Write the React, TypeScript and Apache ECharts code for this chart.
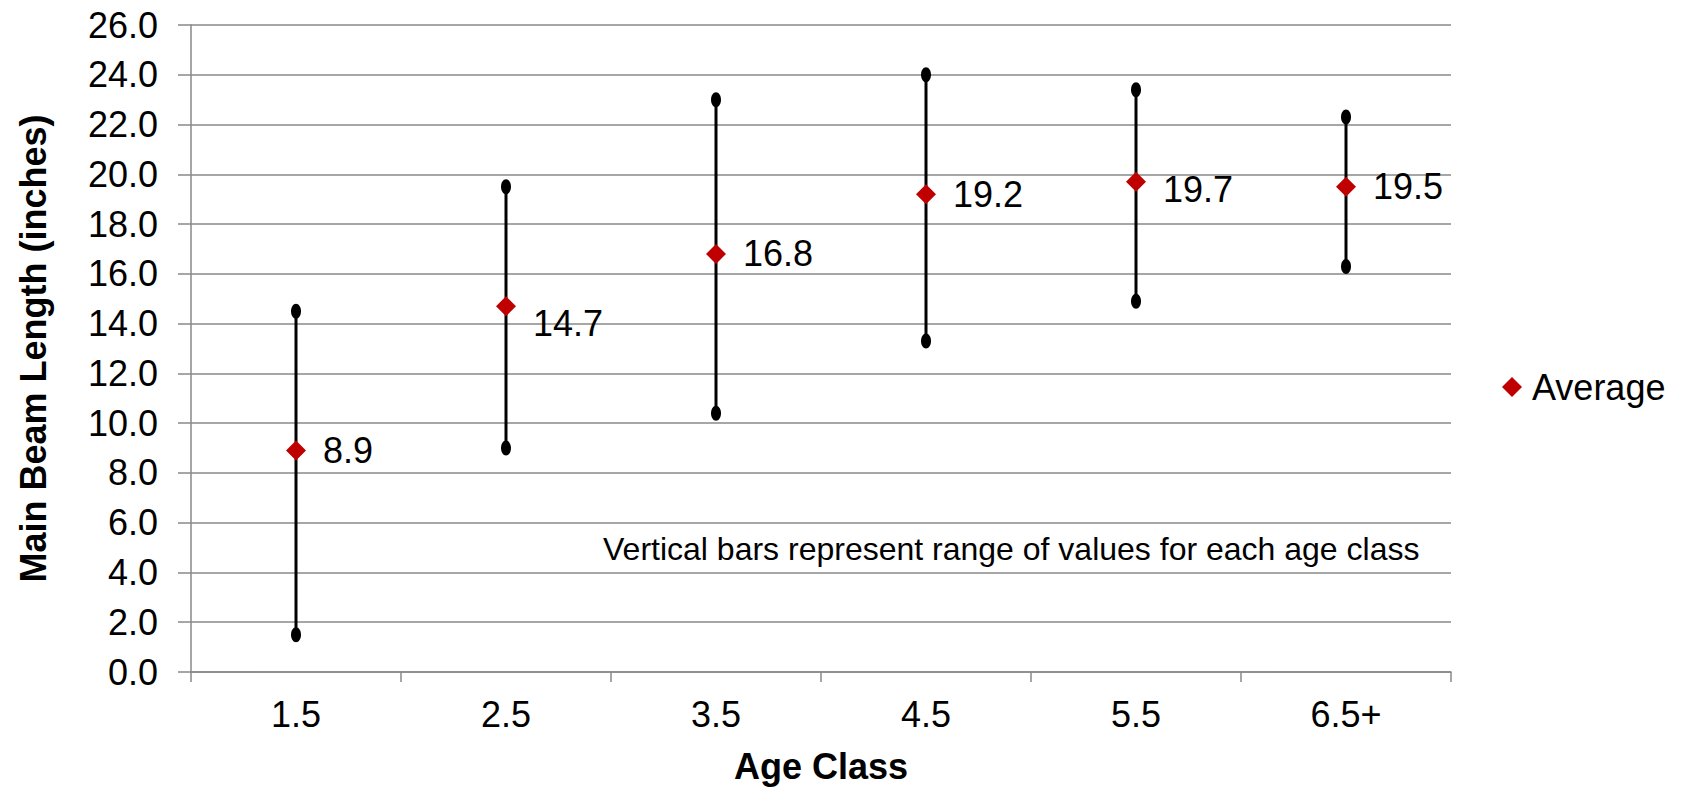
import React, { useEffect, useRef } from "react";
import * as echarts from "echarts";

const categories = ["1.5", "2.5", "3.5", "4.5", "5.5", "6.5+"];
const averages = [8.9, 14.7, 16.8, 19.2, 19.7, 19.5];
const rangeLow = [1.5, 9.0, 10.4, 13.3, 14.9, 16.3];
const rangeHigh = [14.5, 19.5, 23.0, 24.0, 23.4, 22.3];
const yMin = 0;
const yMax = 26;
const yStep = 2;
const seriesName = "Average";
const xTitle = "Age Class";
const yTitle = "Main Beam Length (inches)";
const note = "Vertical bars represent range of values for each age class";

// label vertical nudges (style only)
const labelNudge = [0, 17, 0, 0, 8, 0];

const FONT = "'Liberation Sans', Arial, sans-serif";
const GRID = "#888888";

export default function App() {
  const ref = useRef<HTMLDivElement>(null);
  useEffect(() => {
    document.body.style.margin = "0";
    const chart = echarts.init(ref.current!, null, { renderer: "svg" });
    const option: any = {
      animation: false,
      backgroundColor: "#ffffff",
      textStyle: { fontFamily: FONT },
      grid: { left: 191, right: 230, top: 25, bottom: 121 },
      legend: {
        data: [seriesName],
        left: 1497,
        top: 364,
        itemWidth: 20,
        itemHeight: 20,
        icon: "diamond",
        itemStyle: { opacity: 1 },
        textStyle: { fontSize: 36, color: "#000", fontFamily: FONT, padding: [0, 0, 0, 5] },
      },
      xAxis: {
        type: "category",
        data: categories,
        boundaryGap: true,
        axisLine: { show: true, lineStyle: { color: GRID, width: 1.5 } },
        axisTick: { show: true, length: 10, alignWithLabel: false, lineStyle: { color: GRID, width: 1.5 } },
        axisLabel: { fontSize: 36, color: "#000", margin: 24, fontFamily: FONT },
        name: xTitle,
        nameLocation: "middle",
        nameGap: 76,
        nameTextStyle: { fontSize: 36, fontWeight: "bold", color: "#000", fontFamily: FONT },
      },
      yAxis: {
        type: "value",
        min: yMin,
        max: yMax,
        interval: yStep,
        axisLine: { show: true, lineStyle: { color: GRID, width: 1.5 } },
        axisTick: { show: true, length: 13, lineStyle: { color: GRID, width: 1.5 } },
        splitLine: { show: true, lineStyle: { color: GRID, width: 1.5 } },
        axisLabel: {
          fontSize: 36,
          color: "#000",
          margin: 33,
          fontFamily: FONT,
          formatter: (v: number) => v.toFixed(1),
        },
        name: yTitle,
        nameLocation: "middle",
        nameRotate: 90,
        nameGap: 140,
        nameTextStyle: { fontSize: 36, fontWeight: "bold", color: "#000", fontFamily: FONT },
      },
      series: [
        {
          type: "custom",
          name: "Range",
          z: 2,
          data: categories.map((_, i) => [i, rangeLow[i], rangeHigh[i]]),
          renderItem: (params: any, api: any) => {
            const x = api.value(0);
            const pLo = api.coord([x, api.value(1)]);
            const pHi = api.coord([x, api.value(2)]);
            return {
              type: "group",
              children: [
                {
                  type: "line",
                  shape: { x1: pLo[0], y1: pLo[1], x2: pHi[0], y2: pHi[1] },
                  style: { stroke: "#000", lineWidth: 3 },
                },
                {
                  type: "ellipse",
                  shape: { cx: pHi[0], cy: pHi[1], rx: 5, ry: 7.5 },
                  style: { fill: "#000" },
                },
                {
                  type: "ellipse",
                  shape: { cx: pLo[0], cy: pLo[1], rx: 5, ry: 7.5 },
                  style: { fill: "#000" },
                },
              ],
            };
          },
        },
        {
          type: "scatter",
          name: seriesName,
          z: 5,
          symbol: "diamond",
          symbolSize: 20,
          itemStyle: { color: "#C00000", opacity: 1 },
          data: averages.map((v, i) => ({
            value: [i, v],
            label: { offset: [0, labelNudge[i]] },
          })),
          label: {
            show: true,
            position: "right",
            distance: 17,
            fontSize: 36,
            color: "#000000",
            opacity: 1,
            fontFamily: FONT,
            formatter: (p: any) => Number(p.value[1]).toFixed(1),
          },
        },
      ],
      graphic: [
        {
          type: "text",
          left: 603,
          top: 533,
          style: { text: note, fontSize: 32, fill: "#000", fontFamily: FONT },
        },
      ],
    };
    chart.setOption(option);
    return () => chart.dispose();
  }, []);
  return (
    <div
      ref={ref}
      style={{ position: "absolute", left: 0, top: 0, width: 1681, height: 793 }}
    />
  );
}
